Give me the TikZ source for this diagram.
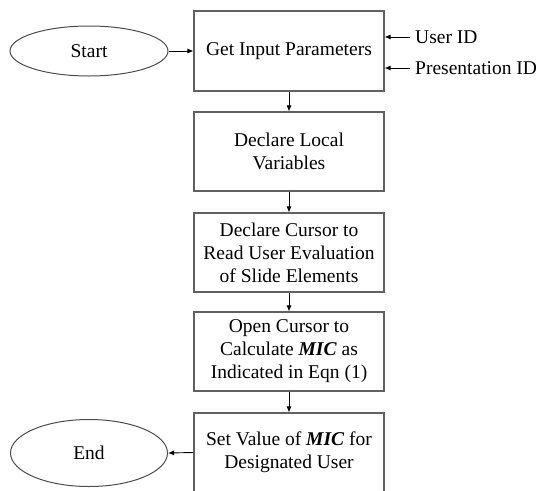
\documentclass[tikz,border=0pt]{standalone}
\usepackage{fontspec}
\setmainfont{Liberation Serif}
\usetikzlibrary{arrows.meta,shapes.geometric}
\begin{document}
\begin{tikzpicture}[x=1pt,y=-1pt,
  every node/.style={font=\fontsize{19.5}{23}\selectfont},
  procbox/.style={draw=black!62, line width=1.1pt, rectangle, minimum width=190pt, minimum height=79pt, inner sep=0pt, align=center},
  term/.style={draw=black!70, line width=1pt, ellipse, inner sep=0pt, align=center},
  arr/.style={draw=black, line width=0.9pt, -{Latex[length=6pt,width=5pt]}}]
\useasboundingbox (0,0) rectangle (540,490);
\node[procbox, minimum height=80pt] (b1) at (289,51) {Get Input Parameters};
\node[procbox] (b2) at (289,151.5) {Declare Local\\Variables};
\node[procbox] (b3) at (289,252.5) {Declare Cursor to\\Read User Evaluation\\of Slide Elements};
\node[procbox] (b4) at (289,351.5) {Open Cursor to\\Calculate \textbf{\textit{MIC}} as\\Indicated in Eqn (1)};
\node[procbox] (b5) at (289,452.5) {Set Value of \textbf{\textit{MIC}} for\\Designated User};
\node[term, minimum width=158pt, minimum height=50pt] (start) at (89,51) {Start};
\node[term, minimum width=157pt, minimum height=67pt] (end) at (89,453) {End};
\node[anchor=west, inner sep=0pt] (uid) at (415,37) {User ID};
\node[anchor=west, inner sep=0pt] (pid) at (415,68) {Presentation ID};
\draw[arr] (start.east) -- (b1.west);
\draw[arr] ([xshift=-5pt]uid.west) -- (b1.east |- uid.west);
\draw[arr] ([xshift=-5pt]pid.west) -- (b1.east |- pid.west);
\draw[arr] (b1.south) -- (b2.north);
\draw[arr] (b2.south) -- (b3.north);
\draw[arr] (b3.south) -- (b4.north);
\draw[arr] (b4.south) -- (b5.north);
\draw[arr] (b5.west) -- (end.east);
\end{tikzpicture}
\end{document}
